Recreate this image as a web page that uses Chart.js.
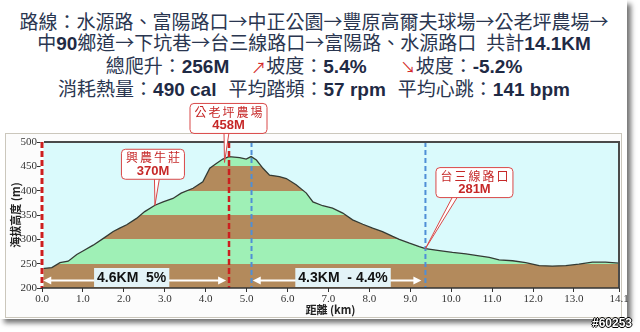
<!DOCTYPE html>
<html>
<head>
<meta charset="utf-8">
<script src="https://cdn.jsdelivr.net/npm/chart.js@4"></script>
<style>
  html, body { margin: 0; padding: 0; background: #fff; }
  body { width: 640px; height: 332px; position: relative; overflow: hidden; }
  #card {
    position: absolute; left: 0; top: 0; width: 627px; height: 319px;
    background: #fff; box-shadow: 4px 4px 5px rgba(0,0,0,0.55);
  }
  #title {
    position: absolute; left: 0; top: 10px; width: 628px;
    text-align: center; color: #2a3650;
    font-family: "Noto Sans CJK TC", "Noto Sans CJK SC", sans-serif;
    font-size: 19px; line-height: 21px; white-space: nowrap;
  }
  #title b { font-family: "Liberation Sans", Arial, sans-serif; font-weight: bold; color: #1f2a44; }
  #title .red { color: #d42a2a; font-size: 15px; }
  .gap { display: inline-block; }
  #frame {
    position: absolute; left: 5px; top: 133px; width: 615px; height: 183px;
    border: 1px solid #cbc7bc; background: #fcfcfc;
  }
  #chart { position: absolute; left: 0; top: 95px; }
  #mark {
    position: absolute; left: 592px; top: 316px;
    font: bold 12px "Liberation Sans", Arial, sans-serif; color: #fff;
    text-shadow: 1px 0 0 #000, -1px 0 0 #000, 0 1px 0 #000, 0 -1px 0 #000;
  }
</style>
</head>
<body>
<div id="card"></div>
<div id="title">
  <div>路線：水源路、富陽路口→中正公園→豐原高爾夫球場→公老坪農場→</div>
  <div>中<b>90</b>鄉道→下坑巷→台三線路口→富陽路、水源路口<span class="gap" style="width:10px"></span>共計<b>14.1KM</b></div>
  <div>總爬升：<b>256M</b><span class="gap" style="width:22px"></span><span class="red">↗</span>坡度：<b>5.4%</b><span class="gap" style="width:34px"></span><span class="red">↘</span>坡度：<b>-5.2%</b></div>
  <div>消耗熱量：<b>490 cal</b><span class="gap" style="width:12px"></span>平均踏頻：<b>57 rpm</b><span class="gap" style="width:12px"></span>平均心跳：<b>141 bpm</b></div>
</div>
<div id="frame"></div>
<canvas id="chart" width="640" height="237"></canvas>
<div id="mark">#60253</div>

<script>
// elevation profile (distance km / elevation m)
const profileKm = [0, 0.24, 0.44, 0.64, 0.85, 1.0, 1.25, 1.5, 1.74, 1.9, 2.07, 2.31, 2.51, 2.76, 2.96,
  3.2, 3.4, 3.69, 3.93, 4.1, 4.26, 4.42, 4.57, 4.83, 4.99, 5.11, 5.24, 5.4, 5.56, 5.8, 5.97,
  6.21, 6.46, 6.62, 6.86, 7.1, 7.35, 7.59, 7.84, 8.08, 8.32, 8.57, 8.73, 8.98, 9.22, 9.37,
  9.71, 10.03, 10.36, 10.68, 10.93, 11.17, 11.5, 11.82, 12.15, 12.47, 12.8, 13.12, 13.45, 13.77, 14.1];
const profileElev = [240, 242, 252, 255, 269, 276, 288, 302, 316, 323, 330, 343, 357, 370, 377,
  384, 395, 405, 418, 446, 456, 465, 470, 468, 465, 470, 463, 446, 432, 429, 425,
  412, 395, 377, 369, 364, 354, 340, 331, 323, 316, 306, 300, 292, 285, 281,
  277, 273, 270, 266, 263, 258, 256, 252, 246, 245, 246, 249, 253, 253, 251];

const xTickValues = [0, 1, 2, 3, 4, 5, 6, 7, 8, 9, 10, 11, 12, 13, 14.1];
const yTickValues = [200, 250, 300, 350, 400, 450, 500];
const bandEdges = [200, 250, 300, 350, 400, 450, 500];

const stationNames = ['興農牛莊', '公老坪農場', '台三線路口'];
const stationKm = [2.76, 4.46, 9.37];
const stationElev = [370, 458, 281];

const redLineKm = [0, 4.57];
const blueLineKm = [5.12, 9.37];

const legLabels = ['4.6KM  5%', '4.3KM  - 4.4%'];
const legStartKm = [0.03, 5.15];
const legEndKm = [4.5, 9.27];

// drawing styles / pixel offsets
const SKY = '#dafafc';
const BAND_COLORS = ['#b38a5c', '#9ff0b6'];
const calloutShift = [[-2, -41], [4, -44], [49, -66]];
const legLabelShift = [-3, 6];

function bandFill(context) {
  const chart = context.chart;
  const { chartArea, scales } = chart;
  if (!chartArea) return BAND_COLORS[0];
  const lo = bandEdges[0], hi = bandEdges[bandEdges.length - 1];
  const y0 = scales.y.getPixelForValue(lo);
  const y1 = scales.y.getPixelForValue(hi);
  const g = chart.ctx.createLinearGradient(0, y0, 0, y1);
  for (let i = 0; i < bandEdges.length - 1; i++) {
    const c = BAND_COLORS[i % 2];
    g.addColorStop((bandEdges[i] - lo) / (hi - lo), c);
    g.addColorStop((bandEdges[i + 1] - lo) / (hi - lo) - 0.0001, c);
  }
  return g;
}

function dashedV(ctx, x, top, bottom, color, width, dash) {
  ctx.save();
  ctx.strokeStyle = color;
  ctx.lineWidth = width;
  ctx.setLineDash(dash);
  ctx.beginPath();
  ctx.moveTo(x, top);
  ctx.lineTo(x, bottom);
  ctx.stroke();
  ctx.restore();
}

function arrowHead(ctx, x, y, dir) {
  ctx.beginPath();
  ctx.moveTo(x, y);
  ctx.lineTo(x - dir * 8, y - 4);
  ctx.lineTo(x - dir * 8, y + 4);
  ctx.closePath();
  ctx.fill();
}

function roundRect(ctx, x, y, w, h, r) {
  ctx.beginPath();
  ctx.moveTo(x + r, y);
  ctx.lineTo(x + w - r, y);
  ctx.quadraticCurveTo(x + w, y, x + w, y + r);
  ctx.lineTo(x + w, y + h - r);
  ctx.quadraticCurveTo(x + w, y + h, x + w - r, y + h);
  ctx.lineTo(x + r, y + h);
  ctx.quadraticCurveTo(x, y + h, x, y + h - r);
  ctx.lineTo(x, y + r);
  ctx.quadraticCurveTo(x, y, x + r, y);
  ctx.closePath();
}

const profileDecor = {
  id: 'profileDecor',
  beforeDraw(chart) {
    const { ctx, chartArea: a } = chart;
    ctx.save();
    ctx.fillStyle = SKY;
    ctx.fillRect(a.left, a.top, a.right - a.left, a.bottom - a.top);
    ctx.restore();
  },
  afterDraw(chart) {
    const { ctx, chartArea: a, scales: { x, y } } = chart;

    // marker lines
    blueLineKm.forEach(km => dashedV(ctx, x.getPixelForValue(km), a.top, a.bottom, '#4f8fd6', 2, [5, 3]));
    redLineKm.forEach((km, i) => {
      const px = x.getPixelForValue(km);
      if (i === 0) dashedV(ctx, px, a.top, a.bottom, '#ffffff', 3, []);
      dashedV(ctx, px, a.top, a.bottom, '#cc1f1f', i === 0 ? 3 : 2.5, [6, 3]);
    });

    // plot frame (top, right, bottom)
    ctx.save();
    ctx.strokeStyle = '#4a4a4a';
    ctx.lineWidth = 2;
    ctx.beginPath();
    ctx.moveTo(a.left + 2, a.top);
    ctx.lineTo(a.right, a.top);
    ctx.lineTo(a.right, a.bottom);
    ctx.stroke();
    ctx.strokeStyle = '#333';
    ctx.lineWidth = 1.5;
    ctx.beginPath();
    ctx.moveTo(a.left, a.bottom);
    ctx.lineTo(a.right, a.bottom);
    ctx.stroke();
    ctx.restore();

    // distance arrows with slope labels
    const ay = a.bottom - 7.5;
    ctx.save();
    ctx.strokeStyle = '#ffffff';
    ctx.fillStyle = '#ffffff';
    ctx.lineWidth = 2;
    legLabels.forEach((label, i) => {
      const x0 = x.getPixelForValue(legStartKm[i]);
      const x1 = x.getPixelForValue(legEndKm[i]);
      ctx.beginPath();
      ctx.moveTo(x0 + 4, ay);
      ctx.lineTo(x1 - 4, ay);
      ctx.stroke();
      arrowHead(ctx, x0, ay, -1);
      arrowHead(ctx, x1, ay, 1);
    });
    ctx.font = 'bold 14px "Liberation Sans", Arial, sans-serif';
    ctx.textAlign = 'center';
    ctx.textBaseline = 'middle';
    legLabels.forEach((label, i) => {
      const cx = (x.getPixelForValue(legStartKm[i]) + x.getPixelForValue(legEndKm[i])) / 2 + legLabelShift[i];
      const w = ctx.measureText(label).width + 6;
      ctx.fillStyle = '#e3f3f7';
      ctx.fillRect(cx - w / 2, ay - 12.5, w, 19);
      ctx.fillStyle = '#111';
      ctx.fillText(label, cx, ay - 2.5);
    });
    ctx.restore();

    // station callouts
    ctx.save();
    stationNames.forEach((name, i) => {
      const ax = x.getPixelForValue(stationKm[i]);
      const ay2 = y.getPixelForValue(stationElev[i]);
      const cx = ax + calloutShift[i][0];
      const cy = ay2 + calloutShift[i][1];
      ctx.font = '12px "Noto Sans CJK TC", sans-serif';
      ctx.letterSpacing = '2px';
      const w = ctx.measureText(name).width + 7;
      const h = 30;
      const bx = cx - w / 2, by = cy - h / 2;
      const baseX = ax < bx ? bx + w * 0.25 : ax + 2;

      ctx.fillStyle = '#fff';
      ctx.strokeStyle = '#d94848';
      ctx.lineWidth = 1;
      ctx.beginPath();
      ctx.moveTo(baseX - 2.5, by + h - 1);
      ctx.lineTo(ax, ay2);
      ctx.lineTo(baseX + 2.5, by + h - 1);
      ctx.closePath();
      ctx.fill();
      ctx.stroke();

      roundRect(ctx, bx, by, w, h, 4);
      ctx.fill();
      ctx.stroke();

      ctx.fillStyle = '#c62828';
      ctx.textAlign = 'center';
      ctx.textBaseline = 'middle';
      ctx.fillText(name, cx + 1, by + 8.5);
      ctx.letterSpacing = '0px';
      ctx.font = 'bold 13px "Liberation Sans", Arial, sans-serif';
      ctx.fillText(stationElev[i] + 'M', cx, by + 22);
    });
    ctx.restore();
  }
};

const points = profileKm.map((km, i) => ({ x: km, y: profileElev[i] }));

new Chart(document.getElementById('chart'), {
  type: 'line',
  data: {
    datasets: [{
      label: '海拔高度',
      data: points,
      borderColor: '#333a34',
      borderWidth: 1.3,
      backgroundColor: bandFill,
      fill: 'start',
      pointRadius: 0,
      tension: 0,
    }],
  },
  options: {
    responsive: false,
    animation: false,
    devicePixelRatio: 1,
    layout: { padding: { left: 0, top: 47, right: 21, bottom: 14 } },
    plugins: { legend: { display: false }, tooltip: { enabled: false } },
    scales: {
      x: {
        type: 'linear',
        min: 0,
        max: 14.1,
        z: 1,
        afterBuildTicks: s => { s.ticks = xTickValues.map(v => ({ value: v })); },
        afterFit: s => { s.height = 30; s.paddingLeft = 0; s.paddingRight = 0; },
        ticks: {
          autoSkip: false,
          maxRotation: 0,
          padding: 1,
          color: '#333',
          font: { family: '"Liberation Serif", "Times New Roman", serif', size: 11 },
          callback: v => Number(v).toFixed(1),
        },
        grid: { display: true, drawOnChartArea: false, tickLength: 4, color: '#333' },
        border: { display: false },
        title: {
          display: true,
          text: '距離 (km)',
          color: '#222',
          padding: { top: 0, bottom: 2 },
          font: { family: '"Noto Sans CJK TC", sans-serif', size: 11, weight: 'bold' },
        },
      },
      y: {
        min: 200,
        max: 500,
        z: 1,
        afterBuildTicks: s => { s.ticks = yTickValues.map(v => ({ value: v })); },
        afterFit: s => { s.width = 42; s.paddingTop = 0; s.paddingBottom = 0; },
        ticks: {
          padding: 0,
          color: '#333',
          font: { family: '"Liberation Serif", "Times New Roman", serif', size: 11 },
        },
        grid: { display: true, drawOnChartArea: false, tickLength: 5, color: '#333' },
        border: { display: false },
        title: {
          display: true,
          text: '海拔高度 (m)',
          color: '#222',
          padding: { top: 9, bottom: 0 },
          font: { family: '"Noto Sans CJK TC", sans-serif', size: 11, weight: 'bold' },
        },
      },
    },
  },
  plugins: [profileDecor],
});
</script>
</body>
</html>
